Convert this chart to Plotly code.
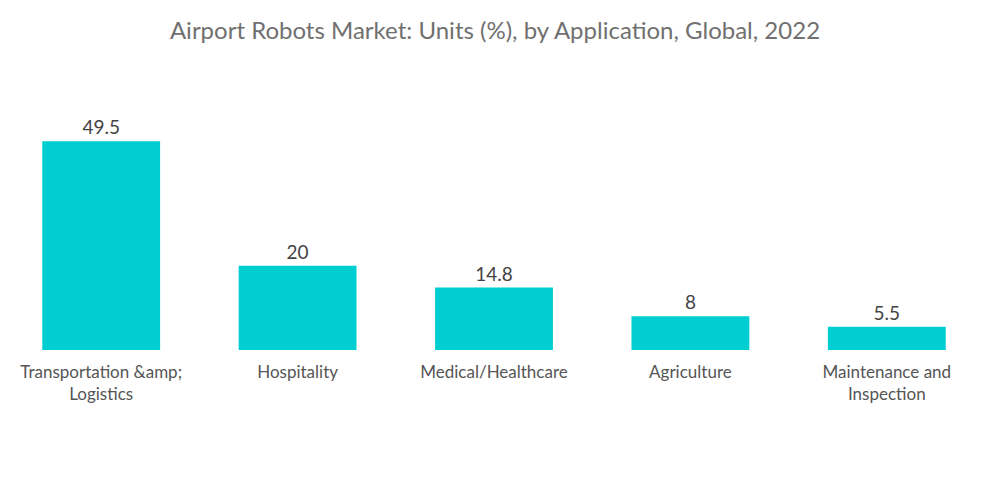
import plotly.graph_objects as go

categories = ["Transportation &amp;amp;<br>Logistics", "Hospitality", "Medical/Healthcare", "Agriculture", "Maintenance and<br>Inspection"]
values = [49.5, 20, 14.8, 8, 5.5]
value_labels = ["49.5", "20", "14.8", "8", "5.5"]

fig = go.Figure(go.Bar(
    x=categories, y=values, text=value_labels, textposition="outside",
    marker=dict(color="#00CED1", line=dict(width=0)),
    textfont=dict(family="Lato", size=19, color="#444444"),
    cliponaxis=False,
))
fig.update_layout(
    width=1000, height=504,
    margin=dict(l=3, r=15, t=118, b=154),
    paper_bgcolor="white", plot_bgcolor="white",
    bargap=0.4,
    title=dict(text="Airport Robots Market: Units (%), by Application, Global, 2022",
               x=0.495, xanchor="center", y=0.94, yanchor="middle",
               font=dict(family="Lato", size=24, color="#707070")),
    xaxis=dict(showgrid=False, showline=False, ticks="", ticklabelstandoff=10,
               tickfont=dict(family="Lato", size=17, color="#555555")),
    yaxis=dict(visible=False, range=[0, 55]),
    showlegend=False,
)
fig.write_html("out.html", config={"displayModeBar": False},
               post_script="document.body.style.margin='0';")
